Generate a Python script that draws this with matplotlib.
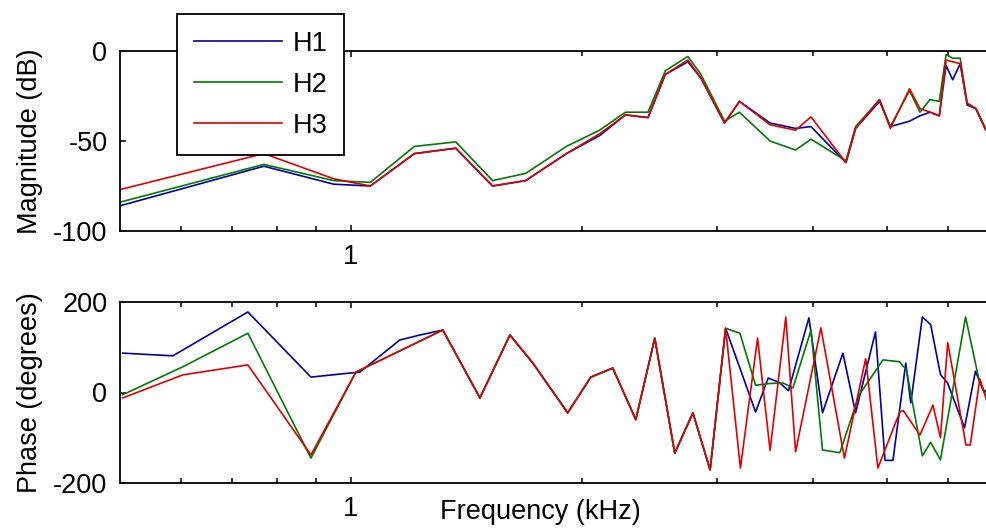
import numpy as np
import matplotlib
matplotlib.use("Agg")
import matplotlib.pyplot as plt
from matplotlib.ticker import FixedLocator, FixedFormatter, NullFormatter

plt.rcParams['font.family'] = ['Liberation Sans', 'DejaVu Sans']

# ---- magnitude response (dB) ----
freq_mag = [0.50, 0.77, 0.95, 1.06, 1.21, 1.37, 1.53, 1.69, 1.91, 2.11, 2.28, 2.44,
            2.57, 2.75, 2.86, 3.07, 3.21, 3.52, 3.80, 3.98, 4.42, 4.55, 4.89, 5.05,
            5.35, 5.52, 5.69, 5.85, 5.97, 6.09, 6.23, 6.36, 6.53, 6.73, 6.95]
mag_h1 = [-86, -64, -74, -75, -57, -54, -75, -72, -57, -47, -35.5, -37,
          -13, -6, -15, -40, -28, -40, -43, -42, -62, -43, -28, -42,
          -39, -36, -34, -36, -8, -16, -7, -30, -32, -44, -40]
mag_h2 = [-84, -63, -72, -73, -53, -50.5, -72, -68, -53, -44, -34, -34,
          -11, -3, -13, -39, -34, -50, -55, -49, -61, -42, -27, -42,
          -22, -34, -27, -28, -2, -4, -4, -29, -32, -44, -38]
mag_h3 = [-77, -57, -71, -75, -57, -54, -75, -72, -57, -46, -35.5, -37,
          -13, -5, -15, -40, -28, -41, -44, -36.6, -62, -43, -27, -43,
          -21, -32, -34, -36, -5, -6, -7, -29, -32, -44, -40]

# ---- phase response (degrees) ----
freq_ph_h1 = [0.504, 0.586, 0.734, 0.887, 0.997, 1.027, 1.158, 1.23, 1.318,
              1.473, 1.612, 1.727, 1.917, 2.055, 2.195, 2.352, 2.49, 2.644,
              2.792, 2.94, 3.08, 3.37, 3.50, 3.62, 3.72, 3.955, 4.12, 4.38,
              4.55, 4.83, 4.97, 5.09, 5.29, 5.37, 5.56, 5.70, 5.87, 6.0,
              6.31, 6.52, 6.70, 6.90]
phase_h1 = [87, 81, 178, 34, 43, 45, 116, 127, 138,
            -12, 127, 65, -45, 34, 54, -60, 120, -134,
            -45, -171, 142, -43, 32, 22, 4, 165, -45, 87,
            -45, 134, -150, -150, 65, -23, 167, 150, 40, 20,
            -78, 47, 0, 30]

freq_ph_h2 = [0.504, 0.604, 0.734, 0.887, 1.015, 1.318,
              1.473, 1.612, 1.727, 1.917, 2.055, 2.195, 2.352, 2.49, 2.644,
              2.792, 2.94, 3.08, 3.215, 3.37, 3.52, 3.66, 3.77, 3.98, 4.12,
              4.34, 4.60, 4.94, 5.19, 5.30, 5.56, 5.70, 5.87, 6.33, 6.60, 6.87]
phase_h2 = [-5, 57, 131, -145, 45, 138,
            -12, 127, 65, -45, 34, 54, -60, 120, -134,
            -45, -171, 142, 131, 16, 20, 21, 10, 138, -127,
            -133, -5, 72, 68, 50, -140, -110, -149, 167, 23, -40]

freq_ph_h3 = [0.504, 0.604, 0.734, 0.887, 1.015, 1.318,
              1.473, 1.612, 1.727, 1.917, 2.055, 2.195, 2.352, 2.49, 2.644,
              2.792, 2.94, 3.08, 3.22, 3.39, 3.52, 3.69, 3.80, 4.10, 4.40,
              4.69, 4.865, 5.196, 5.25, 5.52, 5.74, 5.87, 6.0, 6.337, 6.42,
              6.607, 6.87]
phase_h3 = [-12, 39, 61, -138, 45, 138,
            -12, 127, 65, -45, 34, 54, -60, 120, -134,
            -45, -171, 142, -167, 120, -128, 167, -131, 143, -145,
            75, -167, -43, -40, -94, -28, -100, 110, -116, -116,
            30, -60]

labels = ["H1", "H2", "H3"]
colors = ["#0000a8", "#007a00", "#e00000"]

mag_ticks = [-100, -50, 0]
mag_ticklabels = ["-100", "-50", "0"]
ph_ticks = [-200, 0, 200]
ph_ticklabels = ["-200", "0", "200"]
minor_x = [0.6, 0.7, 0.8, 0.9, 2, 3, 4, 5, 6, 7]

W, H = 987, 531
fig = plt.figure(figsize=(W / 100, H / 100), dpi=100)

left_px = 120
xmin, xmax = 0.5, 8.0
decade_px = 767
width_px = decade_px * np.log10(xmax / xmin)

def axes_rect(top_px, bottom_px):
    return [left_px / W, 1 - bottom_px / H, width_px / W, (bottom_px - top_px) / H]

ax1 = fig.add_axes(axes_rect(51, 231))
ax2 = fig.add_axes(axes_rect(302, 483))

fs = 19.5
for ax in (ax1, ax2):
    ax.set_xscale("log")
    ax.set_xlim(xmin, xmax)
    ax.xaxis.set_major_locator(FixedLocator([1]))
    ax.xaxis.set_major_formatter(FixedFormatter(["1"]))
    ax.xaxis.set_minor_locator(FixedLocator(minor_x))
    ax.xaxis.set_minor_formatter(NullFormatter())
    ax.tick_params(which="both", direction="in", top=True, right=True,
                   width=1.1, labelsize=fs, color="black")
    ax.tick_params(which="major", length=4.5, pad=9)
    ax.tick_params(which="minor", length=3.5)
    for sp in ax.spines.values():
        sp.set_linewidth(1.3)

lines = []
for f, m, c, lab in zip([freq_mag] * 3, [mag_h1, mag_h2, mag_h3], colors, labels):
    ln, = ax1.plot(f, m, color=c, lw=1.2, label=lab)
    lines.append(ln)
ax1.set_ylim(-100, 0)
ax1.yaxis.set_major_locator(FixedLocator(mag_ticks))
ax1.yaxis.set_major_formatter(FixedFormatter(mag_ticklabels))
ax1.set_ylabel("Magnitude (dB)", fontsize=fs)

for f, p, c in zip([freq_ph_h1, freq_ph_h2, freq_ph_h3],
                   [phase_h1, phase_h2, phase_h3], colors):
    ax2.plot(f, p, color=c, lw=1.2)
ax2.set_ylim(-200, 200)
ax2.yaxis.set_major_locator(FixedLocator(ph_ticks))
ax2.yaxis.set_major_formatter(FixedFormatter(ph_ticklabels))
ax2.set_ylabel("Phase (degrees)", fontsize=fs)
ax2.set_xlabel("Frequency (kHz)", fontsize=fs)

ylab_x = (43 - left_px) / width_px
ax1.yaxis.set_label_coords(ylab_x, 0.5)
ax2.yaxis.set_label_coords(ylab_x, 0.5)
ax2.xaxis.set_label_coords((540 - left_px) / width_px, -0.09)

leg = fig.legend(handles=lines, labels=labels, loc="upper left",
                 bbox_to_anchor=(177 / W, 1 - 14 / H), fontsize=fs,
                 frameon=True, fancybox=False, framealpha=1,
                 edgecolor="black", handlelength=3.25, handletextpad=0.4,
                 labelspacing=0.55, borderpad=0.62, borderaxespad=0)
leg.get_frame().set_linewidth(1.3)

fig.savefig("out.png", dpi=100)
